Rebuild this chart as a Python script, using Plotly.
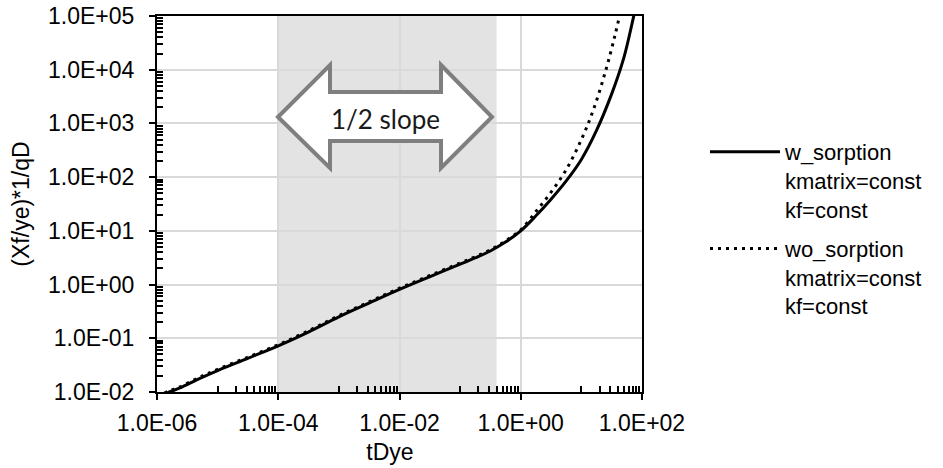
import plotly.graph_objects as go

# ---- data ----
x_w = [1.0e-6, 1.6e-6, 2.4e-6, 5.0e-6, 1.0e-5, 3.2e-5, 1.0e-4, 3.2e-4, 1.0e-3, 3.2e-3,
       1.0e-2, 3.2e-2, 0.10, 0.18, 0.32, 0.56, 1.0, 1.778, 3.162, 5.623, 10.0, 17.78,
       31.62, 50.12, 72.44, 76.0]
y_w = [0.0079, 0.0100, 0.0119, 0.0178, 0.0251, 0.0427, 0.0724, 0.132, 0.251, 0.457,
       0.813, 1.41, 2.40, 3.16, 4.27, 6.17, 10.0, 19.05, 38.9, 85.1, 213.8, 741.0,
       3548.0, 16596.0, 95500.0, 120000.0]

x_wo = [1.0e-6, 1.6e-6, 2.4e-6, 5.0e-6, 1.0e-5, 3.2e-5, 1.0e-4, 3.2e-4, 1.0e-3, 3.2e-3,
        1.0e-2, 3.2e-2, 0.10, 0.18, 0.32, 0.56, 1.0, 1.778, 3.162, 5.623, 10.0, 15.85,
        25.12, 35.48, 43.65]
y_wo = [0.0083, 0.0105, 0.0125, 0.0187, 0.0264, 0.0448, 0.0760, 0.139, 0.264, 0.480,
        0.854, 1.48, 2.52, 3.32, 4.48, 6.48, 10.5, 22.9, 52.5, 138.0, 501.0, 1820.0,
        9550.0, 41700.0, 112200.0]

names = ["w_sorption<br>kmatrix=const<br>kf=const",
         "wo_sorption<br>kmatrix=const<br>kf=const"]

x_tickvals = [1e-6, 1e-4, 1e-2, 1e0, 1e2]
x_ticktext = ["1.0E-06", "1.0E-04", "1.0E-02", "1.0E+00", "1.0E+02"]
y_tickvals = [1e-2, 1e-1, 1e0, 1e1, 1e2, 1e3, 1e4, 1e5]
y_ticktext = ["1.0E-02", "1.0E-01", "1.0E+00", "1.0E+01", "1.0E+02", "1.0E+03",
              "1.0E+04", "1.0E+05"]

shade_x = [1e-4, 0.4]          # highlighted 1/2-slope region
arrow_label = "1/2 slope"

x_minor = [m * 10.0 ** e for e in (-5, -3, -1, 1) for m in range(1, 10)]
y_minor = [m * 10.0 ** e for e in range(-2, 5) for m in range(2, 10)]

FONT = "Liberation Sans, Arial, sans-serif"
NB = "\u00a0"
ZW = "\u200b"

fig = go.Figure()
fig.add_trace(go.Scatter(x=x_w, y=y_w, mode="lines", name=names[0], legendgroup="a",
                         line=dict(color="black", width=3, shape="spline", smoothing=1.0)))
fig.add_trace(go.Scatter(x=x_wo, y=y_wo, mode="lines", name=names[1], legendgroup="b",
                         line=dict(color="black", width=3, dash="3px,5px",
                                   shape="spline", smoothing=1.0)))

# plot area in pixels: x 157..642, y 16..392
L, R, T, B = 157, 642, 16, 392
W, H = 943, 468


def px(xp, yp):
    return (xp - L) / (R - L), (B - yp) / (B - T)


# shaded region
fig.add_shape(type="rect", xref="x", yref="paper", x0=shade_x[0], x1=shade_x[1],
              y0=0, y1=1, fillcolor="rgba(0,0,0,0.11)", line=dict(width=0),
              layer="between")

# double-headed block arrow
pts = [(278, 117), (330, 65), (330, 92), (441, 92), (441, 65), (492, 117),
       (441, 168), (441, 141), (330, 141), (330, 168)]
pp = [px(a, b) for a, b in pts]
path = "M " + " L ".join(f"{a:.4f},{b:.4f}" for a, b in pp) + " Z"
fig.add_shape(type="path", xref="paper", yref="paper", path=path,
              fillcolor="white", line=dict(color="#7f7f7f", width=4), layer="above")
cx, cy = px(385, 119)
fig.add_annotation(xref="paper", yref="paper", x=cx, y=cy, text=arrow_label,
                   showarrow=False, font=dict(family="Lato, Open Sans, sans-serif",
                                              size=26, color="#1a1a1a"),
                   xanchor="center", yanchor="middle")

axis_common = dict(type="log", showline=True, linecolor="black", linewidth=2,
                   mirror=True, ticks="outside", ticklen=6, tickwidth=2,
                   tickcolor="black", gridcolor="#d9d9d9", gridwidth=1.5,
                   zeroline=False, tickfont=dict(family=FONT, size=23, color="black"),
                   tickmode="array", automargin=False)

fig.update_xaxes(**axis_common, range=[-6, 2], tickvals=x_tickvals, ticktext=x_ticktext,
                 ticklabelstandoff=3,
                 title=dict(text="tDye" + NB * 3 + ZW,
                            font=dict(family=FONT, size=23, color="black"), standoff=9),
                 minor=dict(tickmode="array", tickvals=x_minor, ticks="inside",
                            ticklen=6, tickwidth=1.5, tickcolor="black", showgrid=False))
fig.update_yaxes(**axis_common, range=[-2, 5], tickvals=y_tickvals, ticktext=y_ticktext,
                 ticklabelstandoff=10,
                 title=dict(text=NB * 4 + "(Xf/ye)*1/qD",
                            font=dict(family=FONT, size=23, color="black"), standoff=12),
                 minor=dict(tickmode="array", tickvals=y_minor, ticks="inside",
                            ticklen=6, tickwidth=1.5, tickcolor="black", showgrid=False))

fig.update_layout(
    width=W, height=H, autosize=False,
    margin=dict(l=L, r=W - R, t=T, b=H - B, pad=0),
    paper_bgcolor="white", plot_bgcolor="white",
    showlegend=True,
    legend=dict(x=(705 - L) / (R - L), y=px(0, 131)[1], xanchor="left", yanchor="top",
                font=dict(family=FONT, size=22, color="black"),
                bgcolor="rgba(0,0,0,0)", itemwidth=70, valign="top",
                traceorder="grouped", tracegroupgap=8),
)

fig.write_html("out.html")
